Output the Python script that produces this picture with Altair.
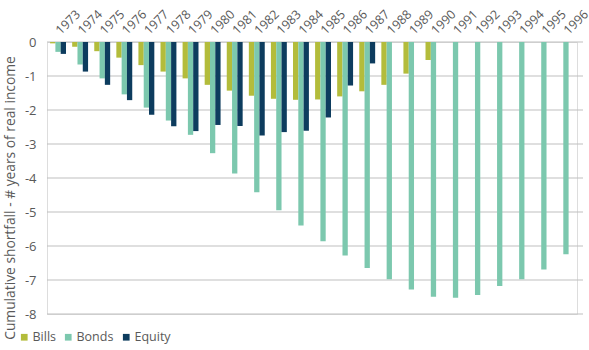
import altair as alt
import pandas as pd

years = [str(y) for y in range(1973, 1997)]
bills = [-0.04, -0.14, -0.27, -0.46, -0.68, -0.87, -1.07, -1.26, -1.43, -1.58, -1.67, -1.70,
         -1.69, -1.60, -1.45, -1.26, -0.93, -0.53, None, None, None, None, None, None]
bonds = [-0.29, -0.66, -1.07, -1.54, -1.93, -2.31, -2.73, -3.27, -3.87, -4.42, -4.95, -5.40,
         -5.86, -6.28, -6.65, -6.98, -7.28, -7.49, -7.52, -7.44, -7.18, -6.98, -6.69, -6.24]
equity = [-0.35, -0.87, -1.26, -1.71, -2.14, -2.48, -2.62, -2.44, -2.47, -2.75, -2.65, -2.61,
          -2.22, -1.28, -0.63, None, None, None, None, None, None, None, None, None]
series = ["Bills", "Bonds", "Equity"]
colors = ["#b3bc3b", "#7cc8ae", "#0d3c5e"]
grid_values = [0, -1, -2, -3, -4, -5, -6, -7, -8]

rows = []
for name, vals in zip(series, [bills, bonds, equity]):
    for yr, v in zip(years, vals):
        if v is not None:
            rows.append({"year": yr, "series": name, "value": v})
df = pd.DataFrame(rows)
grid_df = pd.DataFrame({"value": grid_values})

FONT = "Open Sans"
TXT = "#595959"

yscale = alt.Scale(domain=[-8, 0], nice=False, zero=False)
yaxis = alt.Axis(values=grid_values, grid=False, domain=False, ticks=False,
                 labelPadding=11, labelFont=FONT, labelFontSize=13,
                 labelColor=TXT,
                 labelExpr="datum.value == 0 ? '0' : '-' + abs(datum.value)",
                 title="Cumulative shortfall - # years of real income",
                 titleFont=FONT, titleFontSize=13.8, titleFontWeight="normal",
                 titleColor=TXT, titleAngle=270, titleAlign="center",
                 titleBaseline="middle", titleX=-37, titleY=155.5)

grid = alt.Chart(grid_df).mark_rule(color="#bfbfbf", strokeWidth=1).encode(
    y=alt.Y("value:Q", scale=yscale, axis=yaxis),
    x=alt.value(0),
    x2=alt.value(536),
)

bars = alt.Chart(df).mark_bar().encode(
    x=alt.X("year:N", sort=years,
            scale=alt.Scale(domain=years, paddingInner=0.28, paddingOuter=0.14),
            axis=alt.Axis(orient="top", title=None, domain=False, ticks=False,
                          labelAngle=-45, labelAlign="left", labelBaseline="middle",
                          labelPadding=10, labelFont=FONT, labelFontSize=12.5,
                          labelColor=TXT)),
    xOffset=alt.XOffset("series:N", sort=series,
                        scale=alt.Scale(domain=series, paddingInner=0, paddingOuter=0)),
    y=alt.Y("value:Q", scale=yscale, axis=yaxis),
    y2=alt.datum(0),
    color=alt.Color("series:N", sort=series,
                    scale=alt.Scale(domain=series, range=colors),
                    legend=alt.Legend(orient="none", legendX=-29, legendY=289,
                                      direction="horizontal", title=None,
                                      gridAlign="none",
                                      symbolType="square", symbolSize=45,
                                      symbolStrokeWidth=0, labelOffset=2,
                                      columnPadding=6, labelFont=FONT,
                                      labelFontSize=12.5, labelColor=TXT)),
)

chart = alt.layer(grid, bars).properties(
    width=530, height=272,
    autosize=alt.AutoSizeParams(type="none"),
    padding={"left": 47, "top": 42, "right": 12, "bottom": 36},
).configure_view(stroke=None).configure(background="white")

chart.save("out.html", embed_options={"renderer": "svg", "actions": False})
